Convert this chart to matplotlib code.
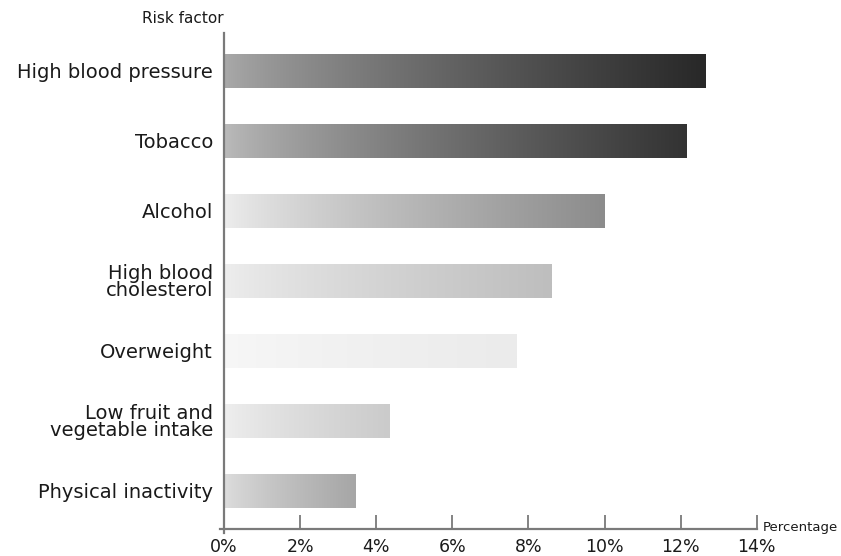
import numpy as np
import matplotlib
matplotlib.use("Agg")
import matplotlib.pyplot as plt
from matplotlib.lines import Line2D

# ---- data ----
categories = ["High blood pressure", "Tobacco", "Alcohol", "High blood\ncholesterol",
              "Overweight", "Low fruit and\nvegetable intake", "Physical inactivity"]
values = [12.65, 12.15, 10.0, 8.6, 7.7, 4.35, 3.45]
xticks = [0, 2, 4, 6, 8, 10, 12, 14]
xtick_labels = ["0%", "2%", "4%", "6%", "8%", "10%", "12%", "14%"]

# ---- style: gradient (left grey, right grey) per bar ----
grad_left = [0xaa, 0xbb, 0xee, 0xee, 0xf7, 0xef, 0xde]
grad_right = [0x28, 0x33, 0x8c, 0xbe, 0xeb, 0xcb, 0xa6]

W, H = 841, 556
fig = plt.figure(figsize=(W / 100, H / 100), dpi=100)
x0, x1 = 224, 756.7
ytop, ybot = 33, 529.3
ax = fig.add_axes([x0 / W, (H - ybot) / H, (x1 - x0) / W, (ybot - ytop) / H])

pos = np.arange(len(categories))
bar_h = 0.49
bars = ax.barh(pos, values, height=bar_h, facecolor="none", edgecolor="none")

t = np.linspace(0, 1, 256) ** 0.8
for i, (b, v) in enumerate(zip(bars, values)):
    g = (grad_left[i] + (grad_right[i] - grad_left[i]) * t) / 255.0
    img = np.dstack([g, g, g]).reshape(1, 256, 3)
    im = ax.imshow(img, extent=[0, v, i + bar_h / 2, i - bar_h / 2],
                   aspect="auto", interpolation="bilinear", zorder=2)
    im.set_clip_path(b)

ax.set_xlim(0, 14)
top_lim = -37.7 / 70
bot_lim = (529.3 - 70.7) / 70
ax.set_ylim(bot_lim, top_lim)

for s in ax.spines.values():
    s.set_visible(False)

axis_col = "#7a7a7a"
ax.add_line(Line2D([0, 0], [top_lim, bot_lim + 4 / 70], color=axis_col, lw=1.6,
                   clip_on=False, zorder=3))
ax.add_line(Line2D([-4 / 38, 14], [bot_lim, bot_lim], color=axis_col, lw=1.6,
                   clip_on=False, zorder=3))

ax.set_xticks(xticks)
ax.set_xticklabels(xtick_labels, fontsize=12.5, color="#1a1a1a")
ax.tick_params(axis="x", direction="in", length=10, width=1.3, color=axis_col, pad=6)
ax.set_yticks(pos)
ax.set_yticklabels(categories, fontsize=14, color="#1a1a1a", linespacing=0.92,
                   ha="right")
ax.tick_params(axis="y", length=0, pad=8)

ax.text(0, top_lim - 0.1, "Risk factor", ha="right", va="bottom", fontsize=11,
        color="#1a1a1a", transform=ax.transData, clip_on=False)
ax.text(14.15, bot_lim - 0.03, "Percentage", ha="left", va="center", fontsize=9.5,
        color="#1a1a1a", clip_on=False)

fig.savefig("out.png", dpi=100)
